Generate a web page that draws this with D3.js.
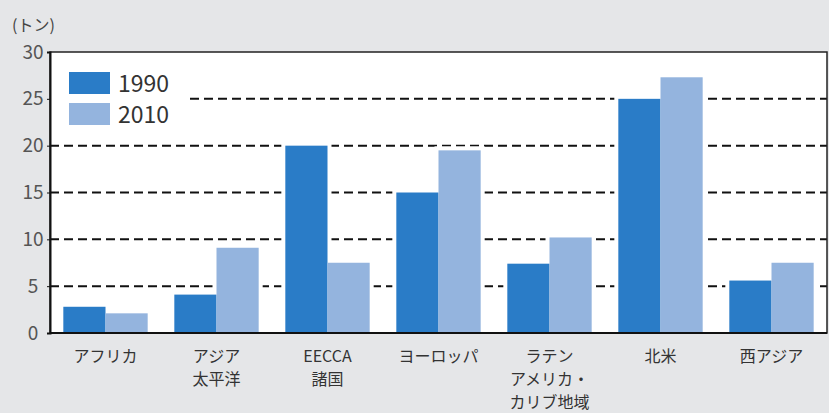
<!DOCTYPE html>
<html><head><meta charset="utf-8">
<script src="https://cdn.jsdelivr.net/npm/d3@7"></script>
<style>
html,body{margin:0;padding:0;background:#e5e6e8;}
svg{display:block;}
text{font-family:"Noto Sans CJK JP","Noto Sans",sans-serif;}
</style></head>
<body>
<script>
const categories = [["アフリカ"],["アジア","太平洋"],["EECCA","諸国"],["ヨーロッパ"],["ラテン","アメリカ・","カリブ地域"],["北米"],["西アジア"]];
const series = ["1990","2010"];
const values1990 = [2.8, 4.1, 20.0, 15.0, 7.4, 25.0, 5.6];
const values2010 = [2.1, 9.1, 7.5, 19.5, 10.2, 27.3, 7.5];
const yTicks = [0,5,10,15,20,25,30];
const unitLabel = "(トン)";
const colors = ["#2a7cc7","#94b4de"];

const W = 829, H = 413;
const m = {left:50, right:2, top:52, bottom:80};
const svg = d3.select("body").append("svg").attr("width",W).attr("height",H);
svg.append("rect").attr("width",W).attr("height",H).attr("fill","#e5e6e8");

const x0 = d3.scaleBand().domain(d3.range(categories.length)).range([m.left, W-m.right]).paddingInner(0.24).paddingOuter(0.12);
const x1 = d3.scaleBand().domain(series).range([0, x0.bandwidth()]);
const y = d3.scaleLinear().domain([0,30]).range([H-m.bottom, m.top]);

// plot background
svg.append("rect").attr("x",m.left).attr("y",m.top).attr("width",W-m.right-m.left).attr("height",H-m.bottom-m.top).attr("fill","#fff");

// gridlines
svg.append("g").selectAll("line").data(yTicks.filter(d=>d>0&&d<30)).join("line")
  .attr("x1",m.left).attr("x2",W-m.right).attr("y1",d=>y(d)).attr("y2",d=>y(d))
  .attr("stroke","#111").attr("stroke-width",2).attr("stroke-dasharray","9,5");

const data = [];
categories.forEach((c,i)=>{
  data.push({i, s:"1990", v:values1990[i]});
  data.push({i, s:"2010", v:values2010[i]});
});
// halos
svg.append("g").selectAll("rect").data(data).join("rect")
  .attr("x",d=>x0(d.i)+x1(d.s)-4).attr("width",x1.bandwidth()+8)
  .attr("y",d=>y(d.v)-4).attr("height",d=>y(0)-y(d.v)+4).attr("fill","#fff");
// bars
svg.append("g").selectAll("rect").data(data).join("rect")
  .attr("x",d=>x0(d.i)+x1(d.s)).attr("width",x1.bandwidth())
  .attr("y",d=>y(d.v)).attr("height",d=>y(0)-y(d.v))
  .attr("fill",d=>d.s==="1990"?colors[0]:colors[1]);

// legend
const lg = svg.append("g");
lg.append("rect").attr("x",m.left+1).attr("y",62).attr("width",136).attr("height",72).attr("fill","#fff");
series.forEach((s,k)=>{
  lg.append("rect").attr("x",69).attr("y",72+k*31).attr("width",41).attr("height",22).attr("fill",colors[k]);
  lg.append("text").attr("x",118).attr("y",92+k*31).attr("font-size",23).attr("fill","#333")
    .attr("font-family","'Open Sans','Noto Sans',sans-serif").text(s);
});

// frame
svg.append("rect").attr("x",m.left).attr("y",m.top).attr("width",W-m.right-m.left).attr("height",H-m.bottom-m.top)
  .attr("fill","none").attr("stroke","#222").attr("stroke-width",1.5);

// y axis
const yAxis = d3.axisLeft(y).tickValues(yTicks).tickSize(3).tickPadding(6);
const ga = svg.append("g").attr("transform",`translate(${m.left},0)`).call(yAxis);
ga.select(".domain").attr("stroke","#111").attr("stroke-width",2);
ga.selectAll(".tick line").attr("stroke","#111");
ga.selectAll(".tick text").attr("font-size",19).attr("fill","#555").attr("text-anchor","middle").attr("x",-17)
  .attr("font-family","'Open Sans','Noto Sans',sans-serif");
svg.append("line").attr("x1",m.left).attr("x2",W-m.right).attr("y1",y(0)).attr("y2",y(0)).attr("stroke","#111").attr("stroke-width",2);

// x labels
const xl = svg.append("g");
categories.forEach((lines,i)=>{
  const t = xl.append("text").attr("text-anchor","middle").attr("font-size",16).attr("fill","#333");
  lines.forEach((ln,j)=>{
    t.append("tspan").attr("x",x0(i)+x0.bandwidth()/2).attr("y",362+j*23).text(ln);
  });
});

// unit label
svg.append("text").attr("x",12).attr("y",31).attr("font-size",16).attr("fill","#444").text(unitLabel);
</script>
</body></html>
